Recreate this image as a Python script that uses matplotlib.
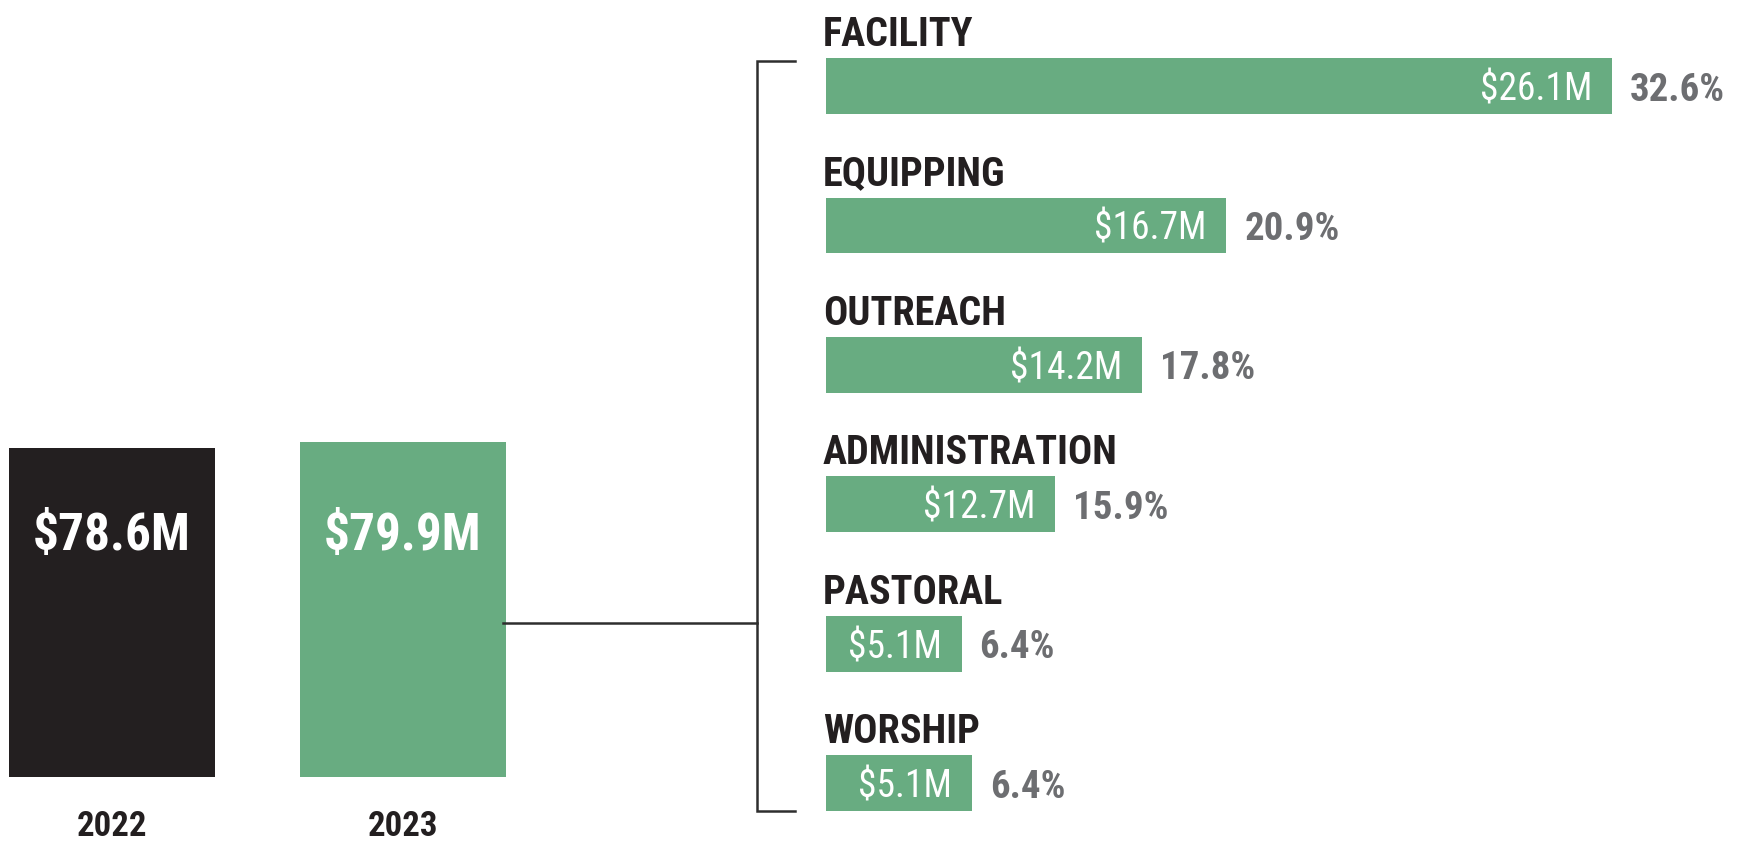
import matplotlib.pyplot as plt
from matplotlib import font_manager

# totals by year
years = ["2022", "2023"]
totals = [78.6, 79.9]
total_labels = ["$78.6M", "$79.9M"]

# 2023 breakdown
categories = ["FACILITY", "EQUIPPING", "OUTREACH", "ADMINISTRATION", "PASTORAL", "WORSHIP"]
amount_labels = ["$26.1M", "$16.7M", "$14.2M", "$12.7M", "$5.1M", "$5.1M"]
shares = ["32.6%", "20.9%", "17.8%", "15.9%", "6.4%", "6.4%"]
# bar lengths as drawn in the original graphic ($M equivalent, not to scale)
drawn = [26.1, 13.3, 10.5, 7.6, 4.5, 4.85]

GREEN = "#68ac81"
BLACK = "#231f20"
GREY = "#6d6e71"
LINE = "#2e2e2e"

# look for a condensed face, else fall back to Roboto at a smaller size
fonts = font_manager.fontManager.ttflist
names = {f.name for f in fonts}
STRETCH = "normal"
FONT = None
for n in ["Roboto Condensed", "Liberation Sans Narrow", "Open Sans Condensed",
          "DejaVu Sans Condensed", "Noto Sans Condensed"]:
    if n in names:
        FONT, k = [n, "DejaVu Sans"], 1.0
        break
if FONT is None:
    for fam in ["Roboto", "Open Sans", "Noto Sans", "DejaVu Sans"]:
        if any(f.name == fam and f.stretch == "condensed" for f in fonts):
            FONT, k, STRETCH = [fam, "DejaVu Sans"], 1.0, "condensed"
            break
if FONT is None:
    FONT, k = ["Roboto", "DejaVu Sans"], 0.82

W, H = 1745, 842
fig = plt.figure(figsize=(W / 100, H / 100), dpi=100)
fig.patch.set_facecolor("white")


def box(x0, y0, x1, y1):
    # pixel box, top-left origin -> figure fraction rect
    return [x0 / W, 1 - y1 / H, (x1 - x0) / W, (y1 - y0) / H]


# left part: year totals
ax1 = fig.add_axes(box(0, 358, 540, 777))
ax1.bar([0, 1], totals, width=0.708, color=[BLACK, GREEN])
ax1.set_xlim(-0.385, 1.471)
ax1.set_ylim(0, 100)
ax1.axis("off")
for i in range(len(years)):
    ax1.text(i, 54.2, total_labels[i], ha="center", va="baseline", color="white",
             fontsize=37 * k, fontweight="bold", family=FONT, fontstretch=STRETCH)
    ax1.text(i, -14.1, years[i], ha="center", va="baseline", color=BLACK,
             fontsize=25 * k, fontweight="bold", family=FONT, fontstretch=STRETCH,
             clip_on=False)

# right part: breakdown
ax2 = fig.add_axes(box(826, 0, 1745, 842))
ypos = list(range(len(categories)))
ax2.barh(ypos, drawn, height=0.40, color=GREEN)
ax2.set_ylim(5.423, -0.617)
ax2.set_xlim(0, 30.52)
ax2.axis("off")
for i, y in enumerate(ypos):
    ax2.text(-0.1, y - 0.286, categories[i], ha="left", va="baseline", color=BLACK,
             fontsize=29 * k, fontweight="bold", family=FONT, fontstretch=STRETCH)
    ax2.text(drawn[i] - 0.66, y + 0.104, amount_labels[i], ha="right", va="baseline",
             color="white", fontsize=27 * k, family=FONT, fontstretch=STRETCH)
    ax2.text(drawn[i] + 0.6, y + 0.104, shares[i], ha="left", va="baseline", color=GREY,
             fontsize=28 * k, fontweight="bold", family=FONT, fontstretch=STRETCH)

# bracket + connector from the 2023 bar
ax2.plot([-1.03, -2.29, -2.29, -1.03], [-0.18, -0.18, 5.2, 5.2], color=LINE, lw=1.8,
         clip_on=False, solid_joinstyle="miter")
ax2.plot([-10.73, -2.29], [3.85, 3.85], color=LINE, lw=1.8, clip_on=False)

fig.savefig("out.png", dpi=100, facecolor="white")
